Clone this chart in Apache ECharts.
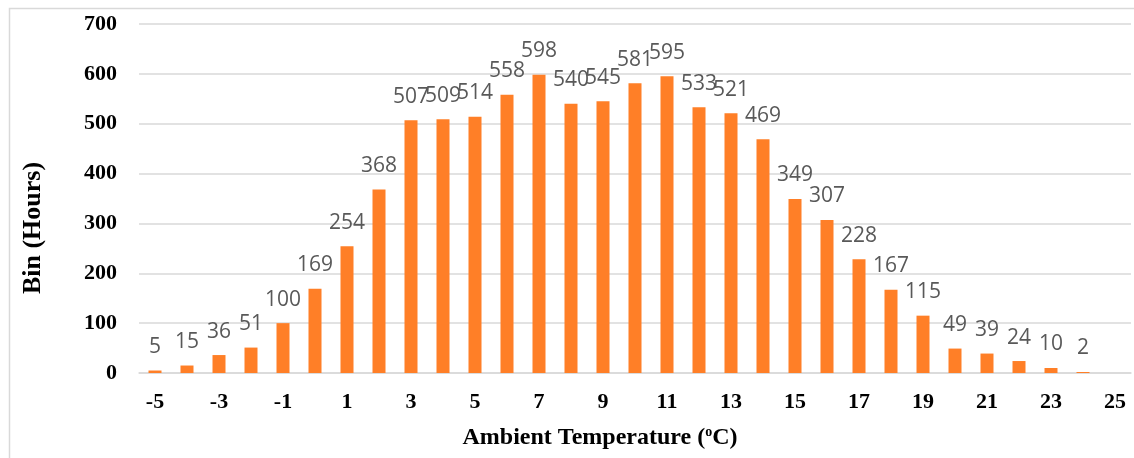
<!DOCTYPE html>
<html>
<head>
<meta charset="utf-8">
<script src="https://cdn.jsdelivr.net/npm/echarts@6/dist/echarts.min.js"></script>
<style>
  html, body { margin: 0; padding: 0; background: #ffffff; }
  #chart { width: 1134px; height: 458px; }
</style>
</head>
<body>
<div id="chart"></div>
<script>
// Ambient temperature bins (°C) and hours spent in each bin
const temperatures = [-5, -4, -3, -2, -1, 0, 1, 2, 3, 4, 5, 6, 7, 8, 9, 10,
  11, 12, 13, 14, 15, 16, 17, 18, 19, 20, 21, 22, 23, 24, 25];
const hours = [5, 15, 36, 51, 100, 169, 254, 368, 507, 509, 514, 558, 598, 540, 545, 581,
  595, 533, 521, 469, 349, 307, 228, 167, 115, 49, 39, 24, 10, 2, '-'];
const yTicks = [0, 100, 200, 300, 400, 500, 600, 700];

const serif = '"Liberation Serif", "Times New Roman", serif';
const chart = echarts.init(document.getElementById('chart'));

chart.setOption({
  animation: false,
  backgroundColor: '#ffffff',
  grid: { left: 139, right: 3, top: 24, bottom: 85, containLabel: false },
  xAxis: {
    type: 'category',
    data: temperatures.map(String),
    axisLine: { show: true, lineStyle: { color: '#d9d9d9', width: 1.5 } },
    axisTick: { show: false },
    axisLabel: {
      interval: 1,
      margin: 18,
      color: '#000000',
      fontFamily: serif,
      fontWeight: 'bold',
      fontSize: 22
    }
  },
  yAxis: {
    type: 'value',
    min: yTicks[0],
    max: yTicks[yTicks.length - 1],
    interval: yTicks[1] - yTicks[0],
    axisLine: { show: false },
    axisTick: { show: false },
    splitLine: { lineStyle: { color: '#d9d9d9', width: 1.5 } },
    axisLabel: {
      margin: 22,
      color: '#000000',
      fontFamily: serif,
      fontWeight: 'bold',
      fontSize: 22
    }
  },
  series: [{
    type: 'bar',
    data: hours,
    barWidth: 13,
    itemStyle: { color: '#ff7f27' },
    label: {
      show: true,
      position: 'top',
      distance: 13,
      color: '#595959',
      fontFamily: '"Open Sans", "Liberation Sans", sans-serif',
      fontSize: 21
    }
  }],
  graphic: [
    {
      type: 'rect',
      silent: true,
      shape: { x: 9.5, y: 8.5, width: 1140, height: 470 },
      style: { fill: 'none', stroke: '#d9d9d9', lineWidth: 1.5 }
    },
    {
      type: 'text',
      x: 33,
      y: 228,
      rotation: Math.PI / 2,
      style: {
        text: 'Bin (Hours)',
        fill: '#000000',
        font: 'bold 26px ' + serif,
        textAlign: 'center',
        textVerticalAlign: 'middle'
      }
    },
    {
      type: 'text',
      x: 600,
      y: 438,
      style: {
        text: '{t|Ambient Temperature (}{s|o}{t|C)}',
        textAlign: 'center',
        textVerticalAlign: 'middle',
        rich: {
          t: { fontFamily: serif, fontWeight: 'bold', fontSize: 24, fill: '#000000', lineHeight: 26 },
          s: { fontFamily: serif, fontWeight: 'bold', fontSize: 14, fill: '#000000', lineHeight: 26, verticalAlign: 'top', padding: [0, 0, 10, 0] }
        }
      }
    }
  ]
});
</script>
</body>
</html>
